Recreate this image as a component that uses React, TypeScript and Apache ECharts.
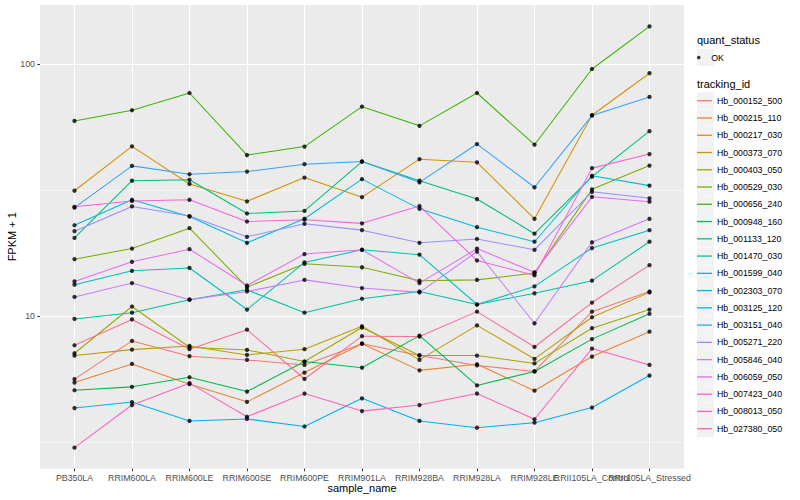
import React, { useEffect, useRef } from "react";
import * as echarts from "echarts";

const samples = [
  "PB350LA", "RRIM600LA", "RRIM600LE", "RRIM600SE", "RRIM600PE", "RRIM901LA",
  "RRIM928BA", "RRIM928LA", "RRIM928LE", "RRII105LA_Control", "RRII105LA_Stressed",
];

const trackingIds = [
  "Hb_000152_500", "Hb_000215_110", "Hb_000217_030", "Hb_000373_070", "Hb_000403_050",
  "Hb_000529_030", "Hb_000656_240", "Hb_000948_160", "Hb_001133_120", "Hb_001470_030",
  "Hb_001599_040", "Hb_002303_070", "Hb_003125_120", "Hb_003151_040", "Hb_005271_220",
  "Hb_005846_040", "Hb_006059_050", "Hb_007423_040", "Hb_008013_050", "Hb_027380_050",
];

const lineColors = [
  "#F8766D", "#EA8331", "#D89000", "#C09B00", "#A3A500", "#7CAE00", "#39B600",
  "#00BB4E", "#00BF7D", "#00C1A3", "#00BFC4", "#00BAE0", "#00B0F6", "#35A2FF",
  "#9590FF", "#C77CFF", "#E76BF3", "#FA62DB", "#FF62BC", "#FF6C90",
];

// FPKM + 1 per sample (same order as samples)
const hb_000152_500 = [5.61, 7.96, 6.92, 6.69, 6.39, 7.76, 6.97, 6.36, 6.02, 10.4, 12.5];
const hb_000215_110 = [5.44, 6.45, 5.36, 4.56, 5.96, 7.76, 6.08, 6.43, 5.05, 6.9, 8.66];
const hb_000217_030 = [31.4, 47.1, 33.4, 28.5, 35.4, 29.6, 41.9, 40.7, 24.3, 62.6, 91.9];
const hb_000373_070 = [6.96, 7.35, 7.6, 7.0, 7.38, 9.1, 6.69, 9.17, 6.75, 9.88, 12.4];
const hb_000403_050 = [7.11, 10.9, 7.51, 7.33, 6.59, 8.99, 6.97, 6.96, 6.48, 8.94, 10.6];
const hb_000529_030 = [16.8, 18.5, 22.3, 13.0, 16.1, 15.6, 13.8, 13.9, 14.8, 31.8, 39.5];
const hb_000656_240 = [59.4, 65.5, 76.7, 43.5, 47.0, 67.7, 56.8, 76.7, 47.8, 95.5, 141];
const hb_000948_160 = [5.07, 5.23, 5.71, 5.01, 6.59, 6.23, 8.35, 5.3, 6.02, 8.09, 10.2];
const hb_001133_120 = [20.4, 34.4, 34.7, 25.5, 26.1, 41.0, 34.4, 29.1, 21.2, 35.7, 54.1];
const hb_001470_030 = [9.73, 10.3, 11.6, 12.7, 10.3, 11.7, 12.5, 11.1, 12.3, 13.8, 19.7];
const hb_001599_040 = [13.3, 15.1, 15.5, 10.6, 16.3, 18.3, 17.5, 11.1, 13.1, 18.6, 21.9];
const hb_002303_070 = [22.9, 28.9, 24.8, 19.5, 24.3, 34.9, 26.6, 22.5, 19.7, 36.0, 32.9];
const hb_003125_120 = [4.31, 4.55, 3.83, 3.9, 3.64, 4.71, 3.83, 3.6, 3.77, 4.33, 5.8];
const hb_003151_040 = [26.9, 39.4, 36.5, 37.4, 40.0, 41.0, 33.9, 48.1, 32.4, 62.4, 74.0];
const hb_005271_220 = [21.7, 27.2, 24.9, 20.6, 23.2, 21.9, 19.5, 20.2, 18.3, 31.1, 29.3];
const hb_005846_040 = [11.9, 13.5, 11.6, 12.5, 13.9, 12.9, 12.4, 18.0, 9.35, 19.6, 24.3];
const hb_006059_050 = [13.7, 16.4, 18.4, 13.2, 17.6, 18.3, 13.5, 18.5, 14.9, 29.7, 28.4];
const hb_007423_040 = [27.1, 28.6, 28.9, 23.7, 24.1, 23.3, 27.3, 16.6, 14.5, 38.6, 43.9];
const hb_008013_050 = [3.0, 4.43, 5.41, 3.98, 4.92, 4.19, 4.43, 4.92, 3.89, 7.42, 6.39];
const hb_027380_050 = [7.65, 9.68, 7.38, 8.82, 5.62, 8.31, 8.28, 10.4, 7.53, 11.3, 15.9];

const fpkmPlusOne = [
  hb_000152_500, hb_000215_110, hb_000217_030, hb_000373_070, hb_000403_050,
  hb_000529_030, hb_000656_240, hb_000948_160, hb_001133_120, hb_001470_030,
  hb_001599_040, hb_002303_070, hb_003125_120, hb_003151_040, hb_005271_220,
  hb_005846_040, hb_006059_050, hb_007423_040, hb_008013_050, hb_027380_050,
];

const yRange = [2.48, 171.4];
const minorBreaks = [Math.sqrt(10), Math.sqrt(1000)];
const quantStatus = ["OK"];

export default function App() {
  const ref = useRef<HTMLDivElement>(null);

  useEffect(() => {
    if (!ref.current) return;
    const chart = echarts.init(ref.current, null, { renderer: "svg" });
    const font = "'Liberation Sans', Arial, Helvetica, sans-serif";
    const idx = samples.map((_, i) => i);
    const evenIdx = idx.filter((i) => i % 2 === 0);
    const oddIdx = idx.filter((i) => i % 2 === 1);
    const keyStep = 17.26;
    const okTop = 48.9;
    const idTop = 92.1;
    const keyLeft = 697;

    const series: any[] = [
      {
        name: "minor-grid",
        type: "line",
        data: [],
        silent: true,
        z: 1,
        markLine: {
          silent: true,
          z: 1,
          symbol: "none",
          label: { show: false },
          emphasis: { disabled: true },
          lineStyle: { color: "#FFFFFF", width: 0.55, type: "solid" },
          data: minorBreaks.map((v) => ({ yAxis: v })),
        },
      },
    ];
    trackingIds.forEach((id, k) => {
      series.push({
        name: id,
        type: "line",
        data: fpkmPlusOne[k].map((v, i) => [i, v]),
        symbol: "none",
        lineStyle: { color: lineColors[k], width: 1.05 },
        itemStyle: { color: lineColors[k] },
        z: 2,
        silent: true,
      });
    });
    series.push({
      name: quantStatus[0],
      type: "scatter",
      data: fpkmPlusOne.flatMap((arr) => arr.map((v, i) => [i, v])),
      symbol: "circle",
      symbolSize: 4.3,
      itemStyle: { color: "#000000" },
      z: 3,
      silent: true,
    });

    const keyRects: any[] = trackingIds.map((_, k) => ({
      type: "rect",
      silent: true,
      z: 0,
      shape: { x: keyLeft, y: idTop + k * keyStep + 0.15, width: 17, height: keyStep - 0.3 },
      style: { fill: "#F2F2F2" },
    }));

    const isPow10 = (v: number) => {
      const l = Math.log10(v);
      return Math.abs(l - Math.round(l)) < 1e-6;
    };

    const xLabelStyle = {
      formatter: (v: number) => samples[Math.round(v)] ?? "",
      fontSize: 8.8,
      color: "#4D4D4D",
      margin: 5,
      hideOverlap: false,
      showMinLabel: true,
      showMaxLabel: true,
      fontFamily: font,
    };

    chart.setOption({
      animation: false,
      backgroundColor: "#FFFFFF",
      textStyle: { fontFamily: font },
      grid: {
        left: 40,
        top: 5,
        width: 644,
        height: 463.5,
        show: true,
        backgroundColor: "#EBEBEB",
        borderWidth: 0,
        borderColor: "transparent",
        containLabel: false,
        outerBoundsMode: "none",
      },
      xAxis: [
        {
          type: "value",
          position: "bottom",
          min: -0.6,
          max: 10.6,
          name: "sample_name",
          nameLocation: "middle",
          nameGap: 14,
          nameMoveOverlap: false,
          nameTextStyle: { fontSize: 11, color: "#000000", fontFamily: font },
          axisLine: { show: false, onZero: false },
          axisTick: {
            show: true,
            customValues: idx,
            length: 2.75,
            lineStyle: { color: "#333333", width: 1 },
          },
          axisLabel: { ...xLabelStyle, customValues: evenIdx },
          splitLine: { show: true, lineStyle: { color: "#FFFFFF", width: 1.07 } },
        },
        {
          // odd-indexed labels on a twin bottom axis, so neighbouring labels may overlap as in the source
          type: "value",
          position: "bottom",
          offset: 0,
          min: -0.6,
          max: 10.6,
          axisLine: { show: false, onZero: false },
          axisTick: { show: false },
          axisLabel: { ...xLabelStyle, customValues: oddIdx },
          splitLine: { show: false },
        },
      ],
      yAxis: {
        type: "log",
        logBase: 10,
        min: yRange[0],
        max: yRange[1],
        name: "FPKM + 1",
        nameLocation: "middle",
        nameGap: 22.5,
        nameRotate: 90,
        nameMoveOverlap: false,
        nameTextStyle: { fontSize: 11, color: "#000000", fontFamily: font },
        axisLine: { show: false, onZero: false },
        axisTick: { show: true, length: 2.75, lineStyle: { color: "#333333", width: 1 } },
        axisLabel: {
          fontSize: 8.8,
          color: "#4D4D4D",
          margin: 5,
          showMinLabel: false,
          showMaxLabel: false,
          fontFamily: font,
          formatter: (v: number) => (isPow10(v) ? String(Math.round(v)) : ""),
        },
        splitLine: {
          show: true,
          showMinLine: false,
          showMaxLine: false,
          lineStyle: { color: "#FFFFFF", width: 1.07 },
        },
      },
      legend: [
        {
          data: [{ name: quantStatus[0], icon: "circle" }],
          orient: "vertical",
          left: keyLeft,
          top: okTop,
          padding: 0,
          itemGap: 0,
          itemWidth: 15,
          itemHeight: 3.5,
          selectedMode: false,
          textStyle: { fontSize: 8.8, color: "#000000", lineHeight: keyStep, fontFamily: font },
        },
        {
          data: trackingIds.map((id) => ({ name: id, icon: "rect" })),
          orient: "vertical",
          left: keyLeft,
          top: idTop,
          padding: 0,
          itemGap: 0,
          itemWidth: 15,
          itemHeight: 1.3,
          selectedMode: false,
          textStyle: { fontSize: 8.8, color: "#000000", lineHeight: keyStep, fontFamily: font },
        },
      ],
      graphic: [
        {
          type: "rect",
          silent: true,
          z: 0,
          shape: { x: keyLeft, y: okTop + 0.15, width: 17, height: keyStep - 0.3 },
          style: { fill: "#F2F2F2" },
        },
        ...keyRects,
        {
          type: "text",
          silent: true,
          x: keyLeft,
          y: 40,
          style: { text: "quant_status", fontSize: 11, fill: "#000000", verticalAlign: "middle", align: "left", fontFamily: font },
        },
        {
          type: "text",
          silent: true,
          x: keyLeft,
          y: 84.3,
          style: { text: "tracking_id", fontSize: 11, fill: "#000000", verticalAlign: "middle", align: "left", fontFamily: font },
        },
      ],
      series,
    });

    return () => chart.dispose();
  }, []);

  return (
    <div
      ref={ref}
      style={{ position: "absolute", left: 0, top: 0, width: 800, height: 500 }}
    />
  );
}
